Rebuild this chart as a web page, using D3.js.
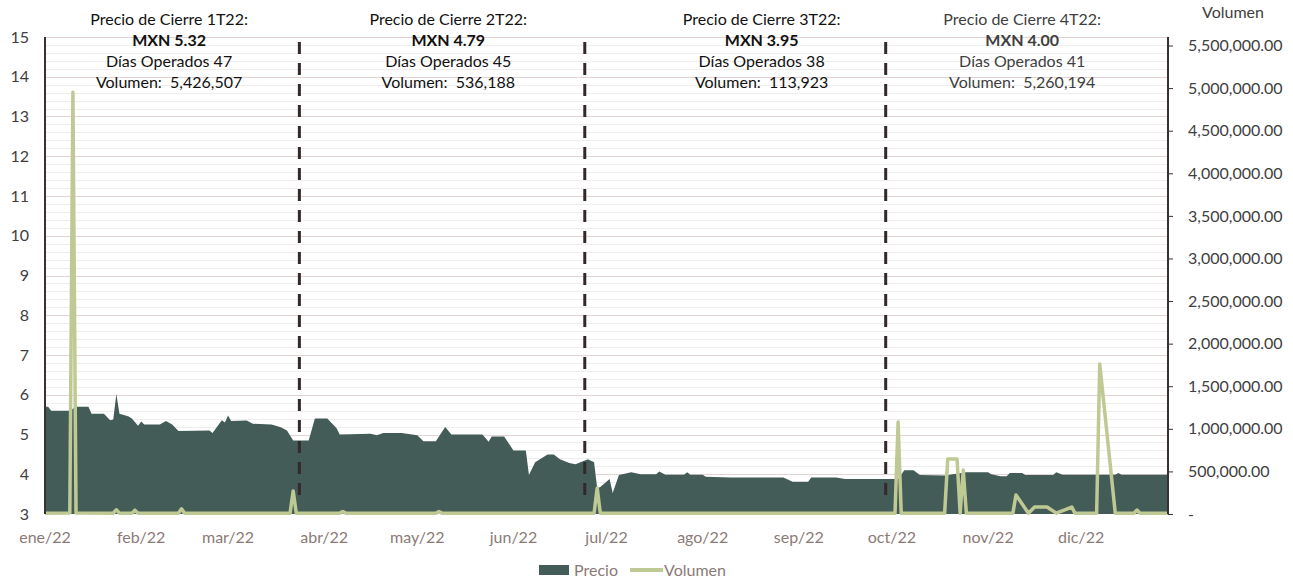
<!DOCTYPE html>
<html lang="es">
<head>
<meta charset="utf-8">
<title>Precio y Volumen 2022</title>
<script src="https://cdn.jsdelivr.net/npm/d3@7"></script>
<style>
  body { margin: 0; background: #fff; }
  svg text { font-family: Lato, "Open Sans", sans-serif; }
</style>
</head>
<body>
<script>
// Precio diario (cierre)
var fechas = ["2022-01-01","2022-01-02","2022-01-03","2022-01-09","2022-01-11","2022-01-15","2022-01-16","2022-01-20",
  "2022-01-22","2022-01-23","2022-01-24","2022-01-25","2022-01-28","2022-01-29","2022-01-31","2022-02-01","2022-02-02",
  "2022-02-07","2022-02-09","2022-02-11","2022-02-13","2022-02-23","2022-02-24","2022-02-27","2022-02-28","2022-03-01",
  "2022-03-02","2022-03-07","2022-03-09","2022-03-15","2022-03-18","2022-03-20","2022-03-22","2022-03-27","2022-03-29",
  "2022-04-02","2022-04-05","2022-04-06","2022-04-16","2022-04-18","2022-04-20","2022-04-26","2022-05-01","2022-05-03",
  "2022-05-07","2022-05-10","2022-05-12","2022-05-22","2022-05-24","2022-05-25","2022-05-29","2022-06-01","2022-06-05",
  "2022-06-06","2022-06-08","2022-06-12","2022-06-14","2022-06-16","2022-06-19","2022-06-21","2022-06-25","2022-06-27",
  "2022-06-28","2022-06-29","2022-07-02","2022-07-03","2022-07-05","2022-07-09","2022-07-12","2022-07-17","2022-07-18",
  "2022-07-20","2022-07-26","2022-07-27","2022-07-28","2022-08-01","2022-08-02","2022-08-10","2022-08-27","2022-08-30",
  "2022-09-04","2022-09-05","2022-09-13","2022-09-16","2022-10-03","2022-10-05","2022-10-08","2022-10-10","2022-10-18",
  "2022-10-25","2022-11-01","2022-11-02","2022-11-05","2022-11-07","2022-11-08","2022-11-12","2022-11-13","2022-11-22",
  "2022-11-23","2022-11-25","2022-12-12","2022-12-13","2022-12-14","2022-12-29"];
var precio = [5.70,5.70,5.60,5.60,5.70,5.70,5.52,5.52,
  5.36,5.38,6.02,5.52,5.45,5.40,5.22,5.33,5.25,
  5.25,5.34,5.25,5.09,5.10,5.04,5.36,5.30,5.48,
  5.34,5.35,5.27,5.25,5.18,5.10,4.85,4.85,5.40,
  5.40,5.16,5.00,5.02,4.98,5.04,5.04,4.98,4.83,
  4.83,5.19,5.00,5.00,4.82,4.95,4.95,4.60,4.60,
  3.98,4.30,4.50,4.50,4.38,4.28,4.25,4.38,4.30,
  3.65,3.68,3.88,3.53,3.98,4.05,4.00,4.00,4.07,
  3.99,3.99,4.05,3.99,3.99,3.94,3.92,3.92,3.81,
  3.81,3.92,3.92,3.88,3.88,4.10,4.10,3.98,3.97,
  4.05,4.05,4.00,3.95,3.95,4.03,4.03,3.98,3.98,
  4.05,3.99,3.99,4.03,3.99,3.99];

// Volumen diario
var fechasVol = ["2022-01-01","2022-01-09","2022-01-10","2022-01-11","2022-01-23","2022-01-24","2022-01-25","2022-01-29",
  "2022-01-30","2022-01-31","2022-02-13","2022-02-14","2022-02-15","2022-03-21","2022-03-22","2022-03-23","2022-04-06",
  "2022-04-07","2022-04-08","2022-05-07","2022-05-08","2022-05-09","2022-06-27","2022-06-28","2022-06-29","2022-10-02",
  "2022-10-03","2022-10-04","2022-10-18","2022-10-19","2022-10-22","2022-10-23","2022-10-24","2022-10-25","2022-11-09",
  "2022-11-10","2022-11-14","2022-11-16","2022-11-20","2022-11-23","2022-11-28","2022-11-29","2022-12-06","2022-12-07",
  "2022-12-12","2022-12-18","2022-12-19","2022-12-20","2022-12-29"];
var volumen = [10000,12000,4950000,12000,10000,50000,10000,10000,
  45000,10000,10000,60000,10000,10000,270000,10000,10000,
  30000,10000,10000,28000,10000,10000,305000,10000,10000,
  1080000,10000,10000,645000,645000,10000,516000,10000,10000,
  223000,10000,82000,82000,10000,82000,10000,10000,1760000,
  10000,10000,47000,10000,10000];

// Cortes trimestrales y anotaciones
var cortes = ["2022-03-24","2022-06-24","2022-09-29"];
var trimestres = ["1T22","2T22","3T22","4T22"];
var cierres = ["5.32","4.79","3.95","4.00"];
var diasOperados = [47,45,38,41];
var volTrimestre = ["5,426,507","536,188","113,923","5,260,194"];
var meses = ["ene/22","feb/22","mar/22","abr/22","may/22","jun/22","jul/22","ago/22","sep/22","oct/22","nov/22","dic/22"];
var preciosTicks = [3,4,5,6,7,8,9,10,11,12,13,14,15];
var volTicks = [0,500000,1000000,1500000,2000000,2500000,3000000,3500000,4000000,4500000,5000000,5500000];

var width = 1293, height = 583;
var m = { left: 45, right: 1168, top: 37, bottom: 514 };
var parse = d3.utcParse("%Y-%m-%d");

var svg = d3.select("body").append("svg")
    .attr("width", width)
    .attr("height", height);

var x = d3.scaleUtc()
    .domain([parse("2022-01-01"), parse("2022-12-29")])
    .range([m.left, m.right]);
var y = d3.scaleLinear().domain([3, 15]).range([m.bottom, m.top]);
var yVol = d3.scaleLinear().domain([0, 5600000]).range([m.bottom, m.top]);

// grid: menores cada 0.2, mayores cada 1
var minor = d3.range(3.2, 15, 0.2).filter(function(v) { return Math.abs(v - Math.round(v)) > 0.01; });
svg.append("g").selectAll("line").data(minor).enter().append("line")
    .attr("x1", m.left).attr("x2", m.right)
    .attr("y1", function(d) { return Math.round(y(d)) + 0.5; })
    .attr("y2", function(d) { return Math.round(y(d)) + 0.5; })
    .attr("stroke", "#efeded").attr("stroke-width", 1);
svg.append("g").selectAll("line").data(preciosTicks.slice(1)).enter().append("line")
    .attr("x1", m.left).attr("x2", m.right)
    .attr("y1", function(d) { return Math.round(y(d)) + 0.5; })
    .attr("y2", function(d) { return Math.round(y(d)) + 0.5; })
    .attr("stroke", "#e3d3d3").attr("stroke-width", 1);

// area de precio
var datosPrecio = fechas.map(function(f, i) { return { fecha: parse(f), v: precio[i] }; });
var area = d3.area()
    .x(function(d) { return x(d.fecha); })
    .y0(y(3))
    .y1(function(d) { return y(d.v); });
svg.append("path").datum(datosPrecio)
    .attr("d", area)
    .attr("fill", "#435c58");

// lineas punteadas de fin de trimestre
svg.append("g").selectAll("line").data(cortes).enter().append("line")
    .attr("x1", function(d) { return x(parse(d)); })
    .attr("x2", function(d) { return x(parse(d)); })
    .attr("y1", 42).attr("y2", 504)
    .attr("stroke", "#33282a").attr("stroke-width", 3)
    .attr("stroke-dasharray", "12,9");

// linea de volumen
var datosVol = fechasVol.map(function(f, i) { return { fecha: parse(f), v: volumen[i] }; });
var linea = d3.line()
    .x(function(d) { return x(d.fecha); })
    .y(function(d) { return yVol(d.v); });
svg.append("path").datum(datosVol)
    .attr("d", linea)
    .attr("fill", "none")
    .attr("stroke", "#bfc994")
    .attr("stroke-width", 3.5)
    .attr("stroke-linejoin", "round");

// eje izquierdo
svg.append("line")
    .attr("x1", m.left).attr("x2", m.left).attr("y1", m.top).attr("y2", m.bottom)
    .attr("stroke", "#3b3030").attr("stroke-width", 2);
svg.append("g").selectAll("text").data(preciosTicks).enter().append("text")
    .attr("x", 29).attr("y", function(d) { return y(d); })
    .attr("dy", "0.35em")
    .attr("text-anchor", "end")
    .attr("font-size", "16px")
    .attr("fill", "#404040")
    .text(function(d) { return d; });

// eje derecho
var ejeDer = d3.axisRight(yVol)
    .tickValues(volTicks)
    .tickSize(5)
    .tickFormat(function(d) { return d === 0 ? "-" : d3.format(",.2f")(d); });
var gDer = svg.append("g").attr("transform", "translate(" + m.right + ",0)").call(ejeDer);
gDer.select(".domain").attr("stroke", "#3b3030").attr("stroke-width", 2)
    .attr("d", "M0," + m.top + "V" + m.bottom);
gDer.selectAll(".tick line").attr("stroke", "#3b3030");
gDer.selectAll(".tick text")
    .attr("x", 20)
    .attr("font-size", "16px")
    .attr("font-family", "Lato, 'Open Sans', sans-serif")
    .attr("fill", "#404040");
svg.append("text")
    .attr("x", 1233).attr("y", 12).attr("dy", "0.35em")
    .attr("text-anchor", "middle")
    .attr("font-size", "16px")
    .attr("fill", "#404040")
    .text("Volumen");

// eje x (meses)
var ticksMes = d3.utcMonths(parse("2022-01-01"), parse("2022-12-29"));
svg.append("g").selectAll("text").data(ticksMes).enter().append("text")
    .attr("x", function(d) { return x(d); })
    .attr("y", 537).attr("dy", "0.35em")
    .attr("text-anchor", "middle")
    .attr("font-size", "16px")
    .attr("fill", "#8b7a76")
    .text(function(d, i) { return meses[i]; });

// anotaciones trimestrales
var centros = ["2022-02-10","2022-05-11","2022-08-20","2022-11-12"];
var colores = ["#111", "#111", "#111", "#404040"];
trimestres.forEach(function(t, i) {
  var g = svg.append("g")
      .attr("transform", "translate(" + x(parse(centros[i])) + ",0)")
      .attr("text-anchor", "middle")
      .attr("font-size", "16px")
      .attr("fill", colores[i]);
  g.append("text").attr("y", 19).attr("dy", "0.35em").text("Precio de Cierre " + t + ":");
  g.append("text").attr("y", 40).attr("dy", "0.35em").attr("font-weight", "bold").text("MXN " + cierres[i]);
  g.append("text").attr("y", 61).attr("dy", "0.35em").text("Días Operados " + diasOperados[i]);
  g.append("text").attr("y", 82).attr("dy", "0.35em").style("white-space", "pre")
      .text("Volumen:  " + volTrimestre[i]);
});

// leyenda
var ley = svg.append("g");
ley.append("rect").attr("x", 539).attr("y", 565).attr("width", 30).attr("height", 10).attr("fill", "#435c58");
ley.append("text").attr("x", 574).attr("y", 570).attr("dy", "0.35em")
    .attr("font-size", "16px").attr("fill", "#8b7a76").text("Precio");
ley.append("line").attr("x1", 630).attr("x2", 663).attr("y1", 570).attr("y2", 570)
    .attr("stroke", "#bfc994").attr("stroke-width", 4);
ley.append("text").attr("x", 664).attr("y", 570).attr("dy", "0.35em")
    .attr("font-size", "16px").attr("fill", "#8b7a76").text("Volumen");
</script>
</body>
</html>
